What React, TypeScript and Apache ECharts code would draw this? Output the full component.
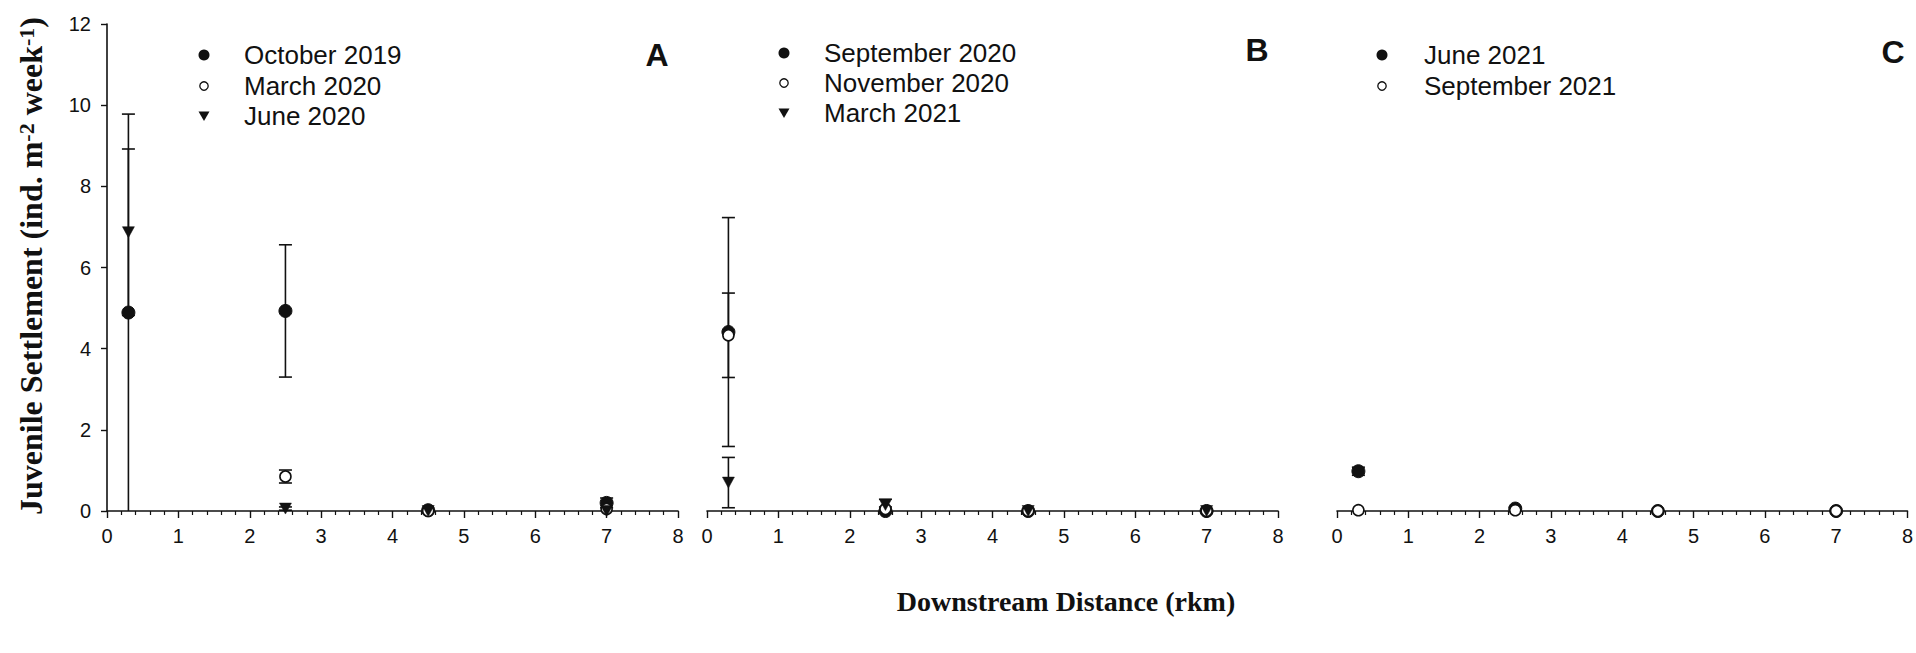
import React, { useEffect, useRef } from "react";
import * as echarts from "echarts";

// ---- data ----
const xPositions = [0.3, 2.5, 4.5, 7];

// Panel A
const oct2019 = [4.89, 4.93, 0.02, 0.2];
const oct2019Err = [4.89, 1.63, 0, 0.12];
const mar2020 = [null, 0.85, 0.0, 0.05];
const mar2020Err = [0, 0.16, 0, 0];
const jun2020 = [6.87, 0.06, 0.0, 0.0];
const jun2020Err = [2.05, 0.04, 0, 0];

// Panel B
const sep2020 = [4.41, 0.0, 0.0, 0.0];
const sep2020Err = [2.82, 0, 0, 0];
const nov2020 = [4.33, 0.05, 0.0, 0.0];
const nov2020Err = [1.04, 0.05, 0, 0];
const mar2021 = [0.7, 0.15, 0.0, 0.0];
const mar2021Err = [0.62, 0.14, 0, 0];

// Panel C
const jun2021 = [0.98, 0.06, 0.0, 0.0];
const jun2021Err = [0.1, 0.03, 0, 0];
const sep2021 = [0.02, 0.02, 0.0, 0.0];
const sep2021Err = [0, 0, 0, 0];

const xTicks = { min: 0, max: 8, interval: 1 };
const yTicks = { min: 0, max: 12, interval: 2 };

const panelLabels = ["A", "B", "C"];
const legendA = ["October 2019", "March 2020", "June 2020"];
const legendB = ["September 2020", "November 2020", "March 2021"];
const legendC = ["June 2021", "September 2021"];

const yTitle = "{a|Juvenile Settlement (ind. m}{s|-2}{a| week}{s|-1}{a|)}";
const xTitle = "Downstream Distance (rkm)";

// ---- styling ----
const INK = "#111";
const SANS = "'Liberation Sans', Arial, sans-serif";
const SERIF = "'Liberation Serif', 'Times New Roman', serif";
const TRI = "path://M0,0L10,0L5,9Z";

type Kind = "filled" | "open" | "tri";

const symbolFor = (k: Kind) =>
  k === "filled"
    ? { symbol: "circle", symbolSize: 13, itemStyle: { color: INK, borderColor: INK, borderWidth: 1, opacity: 1 } }
    : k === "open"
    ? { symbol: "circle", symbolSize: 11, itemStyle: { color: "#fff", borderColor: INK, borderWidth: 1.6, opacity: 1 } }
    : { symbol: TRI, symbolSize: [12, 11], itemStyle: { color: INK, borderColor: INK, borderWidth: 0.5, opacity: 1 } };

const pts = (vals: (number | null)[]) =>
  xPositions.map((x, i) => [x, vals[i]]).filter((d) => d[1] !== null);

const errPts = (vals: (number | null)[], errs: number[]) =>
  xPositions
    .map((x, i) => [x, vals[i], errs[i]])
    .filter((d) => d[1] !== null && (d[2] as number) > 0);

const errorBar = (name: string, idx: number, vals: (number | null)[], errs: number[]) => ({
  type: "custom",
  name: name + " err",
  xAxisIndex: idx,
  yAxisIndex: idx,
  z: 1,
  clip: false,
  data: errPts(vals, errs),
  renderItem: (params: any, api: any) => {
    const x = api.value(0);
    const y = api.value(1);
    const e = api.value(2);
    const hi = y + e;
    const lo = Math.max(0, y - e);
    const pHi = api.coord([x, hi]);
    const pLo = api.coord([x, lo]);
    const cap = 6.5;
    const st = { stroke: INK, lineWidth: 1.6 };
    const children: any[] = [
      { type: "line", shape: { x1: pHi[0], y1: pHi[1], x2: pLo[0], y2: pLo[1] }, style: st },
      { type: "line", shape: { x1: pHi[0] - cap, y1: pHi[1], x2: pHi[0] + cap, y2: pHi[1] }, style: st },
    ];
    if (lo > 0) {
      children.push({ type: "line", shape: { x1: pLo[0] - cap, y1: pLo[1], x2: pLo[0] + cap, y2: pLo[1] }, style: st });
    }
    return { type: "group", children };
  },
});

const scatter = (name: string, idx: number, vals: (number | null)[], kind: Kind) => ({
  type: "scatter",
  name,
  xAxisIndex: idx,
  yAxisIndex: idx,
  z: 3,
  clip: false,
  data: pts(vals),
  ...symbolFor(kind),
});

const legendGraphic = (names: string[], kinds: Kind[], symX: number, textX: number, rows: number[]) => {
  const out: any[] = [];
  names.forEach((n, i) => {
    const k = kinds[i];
    const cy = rows[i];
    if (k === "filled") {
      out.push({ type: "circle", shape: { cx: symX, cy, r: 5.5 }, style: { fill: INK } });
    } else if (k === "open") {
      out.push({ type: "circle", shape: { cx: symX, cy, r: 4.2 }, style: { fill: "#fff", stroke: INK, lineWidth: 1.3 } });
    } else {
      out.push({
        type: "polygon",
        shape: { points: [[symX - 5.5, cy - 4.5], [symX + 5.5, cy - 4.5], [symX, cy + 5]] },
        style: { fill: INK },
      });
    }
    out.push({
      type: "text",
      x: textX,
      y: cy,
      style: { text: n, fontSize: 26, fontFamily: SANS, fill: INK, align: "left", verticalAlign: "middle" },
    });
  });
  return out;
};

const grids = [
  { left: 107, top: 24, width: 571, height: 487 },
  { left: 707, top: 24, width: 571, height: 487 },
  { left: 1337, top: 24, width: 572, height: 487 },
];

export default function App() {
  const ref = useRef<HTMLDivElement>(null);

  useEffect(() => {
    if (!ref.current) return;
    const chart = echarts.init(ref.current, null, { renderer: "svg" });

    const xAxes = grids.map((_, i) => ({
      type: "value",
      gridIndex: i,
      ...xTicks,
      axisLine: { show: true, onZero: false, lineStyle: { color: INK, width: 1.6 } },
      axisTick: { show: true, length: 7, lineStyle: { color: INK, width: 1.4 } },
      minorTick: { show: true, splitNumber: 5, length: 4, lineStyle: { color: INK, width: 1.2 } },
      splitLine: { show: false },
      minorSplitLine: { show: false },
      axisLabel: { show: true, margin: 15, fontSize: 20, fontFamily: SANS, color: INK },
    }));

    const yAxes = grids.map((_, i) => ({
      type: "value",
      gridIndex: i,
      ...yTicks,
      show: i === 0,
      axisLine: { show: true, lineStyle: { color: INK, width: 1.6 } },
      axisTick: { show: true, length: 6, lineStyle: { color: INK, width: 1.4 } },
      splitLine: { show: false },
      axisLabel: { show: true, margin: 16, fontSize: 20, fontFamily: SANS, color: INK },
    }));

    const series: any[] = [
      errorBar("October 2019", 0, oct2019, oct2019Err),
      errorBar("March 2020", 0, mar2020, mar2020Err),
      errorBar("June 2020", 0, jun2020, jun2020Err),
      errorBar("September 2020", 1, sep2020, sep2020Err),
      errorBar("November 2020", 1, nov2020, nov2020Err),
      errorBar("March 2021", 1, mar2021, mar2021Err),
      errorBar("June 2021", 2, jun2021, jun2021Err),
      errorBar("September 2021", 2, sep2021, sep2021Err),
      scatter("October 2019", 0, oct2019, "filled"),
      scatter("March 2020", 0, mar2020, "open"),
      scatter("June 2020", 0, jun2020, "tri"),
      scatter("September 2020", 1, sep2020, "filled"),
      scatter("November 2020", 1, nov2020, "open"),
      scatter("March 2021", 1, mar2021, "tri"),
      scatter("June 2021", 2, jun2021, "filled"),
      scatter("September 2021", 2, sep2021, "open"),
    ];

    const graphic: any[] = [
      ...legendGraphic(legendA, ["filled", "open", "tri"], 204, 244, [55, 86, 116]),
      ...legendGraphic(legendB, ["filled", "open", "tri"], 784, 824, [53, 83, 113]),
      ...legendGraphic(legendC, ["filled", "open"], 1382, 1424, [55, 86]),
      ...panelLabels.map((t, i) => ({
        type: "text",
        x: [657, 1257, 1893][i],
        y: [55, 50, 52][i],
        style: { text: t, fontSize: 32, fontWeight: "bold", fontFamily: SANS, fill: INK, align: "center", verticalAlign: "middle" },
      })),
      {
        type: "text",
        x: 31,
        y: 266,
        rotation: Math.PI / 2,
        style: {
          text: yTitle,
          align: "center",
          verticalAlign: "middle",
          rich: {
            a: { fontSize: 32, fontWeight: "bold", fontFamily: SERIF, fill: INK },
            s: { fontSize: 22, fontWeight: "bold", fontFamily: SERIF, fill: INK, verticalAlign: "top" },
          },
        },
      },
      {
        type: "text",
        x: 1066,
        y: 601,
        style: { text: xTitle, fontSize: 28, fontWeight: "bold", fontFamily: SERIF, fill: INK, align: "center", verticalAlign: "middle" },
      },
    ];

    chart.setOption({
      animation: false,
      backgroundColor: "#fff",
      grid: grids,
      xAxis: xAxes,
      yAxis: yAxes,
      series,
      graphic,
    });

    return () => chart.dispose();
  }, []);

  return (
    <div
      ref={ref}
      style={{ position: "fixed", left: 0, top: 0, width: 1916, height: 653, background: "#fff" }}
    />
  );
}
